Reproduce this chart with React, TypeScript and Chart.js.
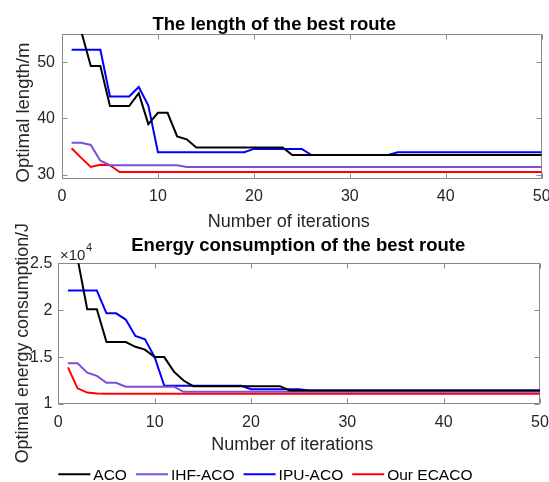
import React, { useEffect, useRef } from "react";
import { Chart, registerables } from "chart.js";

Chart.register(...registerables);

// ---------- data ----------
const iterations = [
  1, 2, 3, 4, 5, 6, 7, 8, 9, 10, 11, 12, 13, 14, 15, 16, 17, 18, 19, 20, 21, 22, 23, 24, 25,
  26, 27, 28, 29, 30, 31, 32, 33, 34, 35, 36, 37, 38, 39, 40, 41, 42, 43, 44, 45, 46, 47, 48, 49, 50,
];

const seriesNames = ["ACO", "IHF-ACO", "IPU-ACO", "Our ECACO"];

// Optimal length / m
const lenACO = [
  62, 55.5, 49.3, 49.3, 42.2, 42.2, 42.2, 44.5, 39.0, 41.0, 41.0, 36.8, 36.3, 34.85, 34.85, 34.85, 34.85,
  34.85, 34.85, 34.85, 34.85, 34.85, 34.85, 33.5, 33.5, 33.5, 33.5, 33.5, 33.5, 33.5, 33.5, 33.5, 33.5,
  33.5, 33.5, 33.5, 33.5, 33.5, 33.5, 33.5, 33.5, 33.5, 33.5, 33.5, 33.5, 33.5, 33.5, 33.5, 33.5, 33.5,
];
const lenIHF = [
  35.7, 35.7, 35.3, 32.5, 31.7, 31.7, 31.7, 31.7, 31.7, 31.7, 31.7, 31.7, 31.4, 31.4, 31.4, 31.4, 31.4,
  31.4, 31.4, 31.4, 31.4, 31.4, 31.4, 31.4, 31.4, 31.4, 31.4, 31.4, 31.4, 31.4, 31.4, 31.4, 31.4, 31.4,
  31.4, 31.4, 31.4, 31.4, 31.4, 31.4, 31.4, 31.4, 31.4, 31.4, 31.4, 31.4, 31.4, 31.4, 31.4, 31.4,
];
const lenIPU = [
  52.2, 52.2, 52.2, 52.2, 43.9, 43.9, 43.9, 45.6, 42.3, 34.0, 34.0, 34.0, 34.0, 34.0, 34.0, 34.0, 34.0,
  34.0, 34.0, 34.6, 34.6, 34.6, 34.6, 34.6, 34.6, 33.5, 33.5, 33.5, 33.5, 33.5, 33.5, 33.5, 33.5, 33.5,
  34.0, 34.0, 34.0, 34.0, 34.0, 34.0, 34.0, 34.0, 34.0, 34.0, 34.0, 34.0, 34.0, 34.0, 34.0, 34.0,
];
const lenECACO = [
  34.7, 33.0, 31.4, 31.8, 31.7, 30.5, 30.5, 30.5, 30.5, 30.5, 30.5, 30.5, 30.5, 30.5, 30.5, 30.5, 30.5,
  30.5, 30.5, 30.5, 30.5, 30.5, 30.5, 30.5, 30.5, 30.5, 30.5, 30.5, 30.5, 30.5, 30.5, 30.5, 30.5, 30.5,
  30.5, 30.5, 30.5, 30.5, 30.5, 30.5, 30.5, 30.5, 30.5, 30.5, 30.5, 30.5, 30.5, 30.5, 30.5, 30.5,
];

// Optimal energy consumption / J
const enACO = [
  28000, 25500, 20100, 20100, 16600, 16600, 16600, 16100, 15800, 15000, 15000, 13450, 12500, 11900, 11900,
  11900, 11900, 11900, 11900, 11900, 11900, 11900, 11900, 11450, 11450, 11450, 11450, 11450, 11450, 11450,
  11450, 11450, 11450, 11450, 11450, 11450, 11450, 11450, 11450, 11450, 11450, 11450, 11450, 11450, 11450,
  11450, 11450, 11450, 11450, 11450,
];
const enIHF = [
  14340, 14340, 13340, 13000, 12270, 12270, 11850, 11850, 11850, 11850, 11850, 11850, 11300, 11300, 11300,
  11300, 11300, 11300, 11300, 11300, 11300, 11300, 11300, 11300, 11300, 11300, 11300, 11300, 11300, 11300,
  11300, 11300, 11300, 11300, 11300, 11300, 11300, 11300, 11300, 11300, 11300, 11300, 11300, 11300, 11300,
  11300, 11300, 11300, 11300, 11300,
];
const enIPU = [
  22100, 22100, 22100, 22100, 19670, 19670, 19000, 17250, 16900, 15000, 11950, 11950, 11950, 11950, 11950,
  11950, 11950, 11950, 11950, 11570, 11570, 11570, 11570, 11570, 11570, 11430, 11430, 11430, 11430, 11430,
  11430, 11430, 11430, 11430, 11430, 11430, 11430, 11430, 11430, 11430, 11430, 11430, 11430, 11430, 11430,
  11430, 11430, 11430, 11430, 11430,
];
const enECACO = [
  13900, 11670, 11220, 11120, 11100, 11100, 11100, 11100, 11100, 11100, 11100, 11100, 11100, 11100, 11100,
  11100, 11100, 11100, 11100, 11100, 11100, 11100, 11100, 11100, 11100, 11100, 11100, 11100, 11100, 11100,
  11100, 11100, 11100, 11100, 11100, 11100, 11100, 11100, 11100, 11100, 11100, 11100, 11100, 11100, 11100,
  11100, 11100, 11100, 11100, 11100,
];

const xTicks = [0, 10, 20, 30, 40, 50];
const lenTicks = [30, 40, 50];
const enTicks = [10000, 15000, 20000, 25000];

// ---------- styles ----------
const COLORS = ["#000000", "#7E4FD6", "#0000FF", "#FF0000"];
const FONT = "'Liberation Sans', Arial, Helvetica, sans-serif";
const TEXT = "#262626";
const BOX = "#8a8a8a";
const W = 549;
const H = 482;

function makeDatasets(series: number[][]) {
  return series.map((vals, i) => ({
    label: seriesNames[i],
    data: iterations.map((x, j) => ({ x, y: vals[j] })),
    borderColor: COLORS[i],
    backgroundColor: COLORS[i],
    borderWidth: 2,
    pointRadius: 0,
    tension: 0,
    fill: false,
  }));
}

type Deco = {
  title: string;
  titleX: number;
  titleY: number;
  xLabelX: number;
  xLabelY: number;
  yLabel: string;
  yLabelX: number;
  yLabelY: number;
  yLabelSize: number;
  exponent?: boolean;
  legend?: boolean;
};

function decoPlugin(d: Deco) {
  return {
    id: "deco",
    beforeDatasetsDraw(chart: any) {
      const { ctx, chartArea: a, scales } = chart;
      ctx.save();
      ctx.strokeStyle = BOX;
      ctx.lineWidth = 1;
      const l = Math.round(a.left) + 0.5;
      const r = Math.round(a.right) - 0.5;
      const t = Math.round(a.top) + 0.5;
      const b = Math.round(a.bottom) - 0.5;
      ctx.strokeRect(l, t, r - l, b - t);
      const tl = 5;
      ctx.beginPath();
      for (const v of xTicks) {
        const px = Math.round(scales.x.getPixelForValue(v)) + 0.5;
        ctx.moveTo(px, b);
        ctx.lineTo(px, b - tl);
        ctx.moveTo(px, t);
        ctx.lineTo(px, t + tl);
      }
      for (const tk of scales.y.ticks) {
        const py = Math.round(scales.y.getPixelForValue(tk.value)) + 0.5;
        ctx.moveTo(l, py);
        ctx.lineTo(l + tl, py);
        ctx.moveTo(r, py);
        ctx.lineTo(r - tl, py);
      }
      ctx.stroke();
      ctx.restore();
    },
    afterDraw(chart: any) {
      const { ctx } = chart;
      ctx.save();
      // title
      ctx.fillStyle = "#000";
      ctx.font = `bold 18.5px ${FONT}`;
      ctx.textAlign = "center";
      ctx.textBaseline = "alphabetic";
      ctx.fillText(d.title, d.titleX, d.titleY);
      // x label
      ctx.fillStyle = TEXT;
      ctx.font = `18px ${FONT}`;
      ctx.fillText("Number of iterations", d.xLabelX, d.xLabelY);
      // y label
      ctx.save();
      ctx.translate(d.yLabelX, d.yLabelY);
      ctx.rotate(-Math.PI / 2);
      ctx.font = `${d.yLabelSize}px ${FONT}`;
      ctx.fillText(d.yLabel, 0, 0);
      ctx.restore();
      if (d.exponent) {
        ctx.textAlign = "left";
        ctx.font = `15px ${FONT}`;
        ctx.fillText("\u00d710", 60, 259.5);
        const w = ctx.measureText("\u00d710").width;
        ctx.font = `11px ${FONT}`;
        ctx.fillText("4", 60 + w + 0.5, 251);
      }
      if (d.legend) {
        const ds = chart.data.datasets;
        let x = 58.3;
        const y = 474.3;
        ctx.font = `15.5px ${FONT}`;
        ctx.textAlign = "left";
        ctx.textBaseline = "middle";
        for (let i = 0; i < ds.length; i++) {
          ctx.strokeStyle = ds[i].borderColor;
          ctx.lineWidth = 2;
          ctx.beginPath();
          ctx.moveTo(x, y);
          ctx.lineTo(x + 32, y);
          ctx.stroke();
          x += 35;
          ctx.fillStyle = "#000";
          ctx.fillText(ds[i].label, x, y + 1);
          x += ctx.measureText(ds[i].label).width + 9;
        }
      }
      ctx.restore();
    },
  };
}

type Panel = {
  series: number[][];
  yMin: number;
  yMax: number;
  yTicks: number[];
  yFmt: (v: number) => string;
  pad: { top: number; right: number };
  yWidth: number;
  xHeight: number;
  yPad: number;
  xPad: number;
  deco: Deco;
};

function makeConfig(p: Panel): any {
  return {
    type: "line",
    data: { datasets: makeDatasets(p.series) },
    plugins: [decoPlugin(p.deco)],
    options: {
      animation: false,
      responsive: false,
      devicePixelRatio: 1,
      events: [],
      layout: { padding: { left: 0, top: p.pad.top, right: p.pad.right, bottom: 0 } },
      plugins: {
        legend: { display: false },
        title: { display: false },
        tooltip: { enabled: false },
      },
      scales: {
        x: {
          type: "linear",
          min: 0,
          max: 50,
          afterBuildTicks: (s: any) => {
            s.ticks = xTicks.map((v) => ({ value: v }));
          },
          afterFit: (s: any) => {
            s.height = p.xHeight;
            s.paddingLeft = 0;
            s.paddingRight = 0;
          },
          grid: { display: false, drawTicks: false },
          border: { display: false },
          ticks: {
            color: TEXT,
            font: { family: FONT, size: 16 },
            padding: p.xPad,
            maxRotation: 0,
            autoSkip: false,
          },
        },
        y: {
          type: "linear",
          min: p.yMin,
          max: p.yMax,
          afterBuildTicks: (s: any) => {
            s.ticks = p.yTicks.map((v) => ({ value: v }));
          },
          afterFit: (s: any) => {
            s.width = p.yWidth;
            s.paddingTop = 0;
            s.paddingBottom = 0;
          },
          grid: { display: false, drawTicks: false },
          border: { display: false },
          ticks: {
            color: TEXT,
            font: { family: FONT, size: 16 },
            padding: p.yPad,
            autoSkip: false,
            callback: (v: number) => p.yFmt(v),
          },
        },
      },
    },
  };
}

const topPanel: Panel = {
  series: [lenACO, lenIHF, lenIPU, lenECACO],
  yMin: 29.2,
  yMax: 55,
  yTicks: lenTicks,
  yFmt: (v) => String(v),
  pad: { top: 34, right: W - 541.7 },
  yWidth: 62,
  xHeight: H - 179.3,
  yPad: 7,
  xPad: 8,
  deco: {
    title: "The length of the best route",
    titleX: 274.2,
    titleY: 29.5,
    xLabelX: 288.8,
    xLabelY: 226.5,
    yLabel: "Optimal length/m",
    yLabelX: 29.3,
    yLabelY: 112.5,
    yLabelSize: 18.5,
  },
};

const bottomPanel: Panel = {
  series: [enACO, enIHF, enIPU, enECACO],
  yMin: 10000,
  yMax: 25000,
  yTicks: enTicks,
  yFmt: (v) => String(v / 10000),
  pad: { top: 263.3, right: W - 540 },
  yWidth: 58.3,
  xHeight: H - 404,
  yPad: 6,
  xPad: 9,
  deco: {
    title: "Energy consumption of the best route",
    titleX: 298.3,
    titleY: 250.5,
    xLabelX: 292.2,
    xLabelY: 450,
    yLabel: "Optimal energy consumption/J",
    yLabelX: 28,
    yLabelY: 343.2,
    yLabelSize: 17.8,
    exponent: true,
    legend: true,
  },
};

function PanelCanvas({ panel }: { panel: Panel }) {
  const ref = useRef<HTMLCanvasElement | null>(null);
  useEffect(() => {
    if (!ref.current) return;
    const chart = new Chart(ref.current, makeConfig(panel));
    return () => chart.destroy();
  }, [panel]);
  return (
    <canvas
      ref={ref}
      width={W}
      height={H}
      style={{ position: "absolute", left: 0, top: 0, width: W, height: H, display: "block" }}
    />
  );
}

export default function App() {
  return (
    <div style={{ position: "absolute", left: 0, top: 0, width: W, height: H, background: "#fff" }}>
      <PanelCanvas panel={topPanel} />
      <PanelCanvas panel={bottomPanel} />
    </div>
  );
}
